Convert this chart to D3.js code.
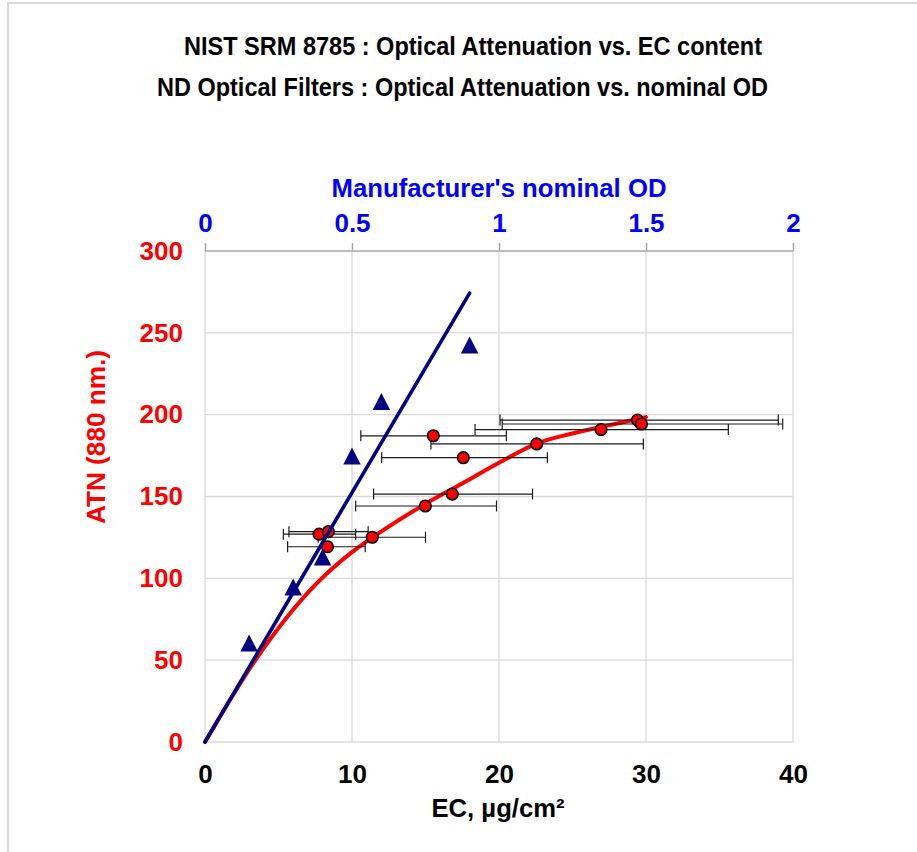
<!DOCTYPE html>
<html>
<head>
<meta charset="utf-8">
<script src="https://cdn.jsdelivr.net/npm/d3@7"></script>
<style>
html,body{margin:0;padding:0;background:#fff;}
svg{display:block;font-family:"Liberation Sans",Arial,sans-serif;font-weight:bold;}
</style>
</head>
<body>
<svg id="chart" width="917" height="852"></svg>
<script>
// ---- data ----
const titleLines = ["NIST SRM 8785 : Optical Attenuation vs. EC content",
                    "ND Optical Filters : Optical Attenuation vs. nominal OD"];
const ecTicks = [0, 10, 20, 30, 40];
const odTicks = [0, 0.5, 1, 1.5, 2];
const atnTicks = [0, 50, 100, 150, 200, 250, 300];

// NIST SRM 8785 samples: EC (µg/cm²), ATN, EC error bar low/high
const srmEC   = [7.76, 8.39, 8.33, 11.38, 14.99, 16.82, 17.57, 15.53, 22.56, 26.94, 29.42, 29.69];
const srmATN  = [127.0, 128.5, 119.3, 125.1, 144.2, 151.5, 173.7, 187.1, 182.1, 190.9, 196.7, 194.3];
const srmLow  = [5.33, 5.71, 5.62, 7.70, 10.25, 11.47, 12.02, 10.60, 15.37, 18.37, 20.07, 20.22];
const srmHigh = [10.25, 11.10, 10.90, 15.00, 19.83, 22.28, 23.29, 20.50, 29.82, 35.60, 39.00, 39.30];

// fitted curve for SRM samples
const fitEC  = [0, 3.5, 7.5, 10, 11.4, 15, 17.5, 20, 22.6, 25, 27, 30];
const fitATN = [0, 51, 96, 116, 125, 145.5, 158, 170.6, 182.5, 188.5, 192.6, 198.5];

// ND filters: nominal OD vs ATN
const ndOD  = [0.15, 0.30, 0.40, 0.50, 0.60, 0.90];
const ndATN = [60.5, 94.7, 113, 174.7, 208, 242.6];
// ND linear fit line
const ndLineOD  = [0, 0.9];
const ndLineATN = [0, 274.3];

// ---- layout ----
const svg = d3.select("#chart");
const L = 205, R = 793, T = 251, B = 742;
const x = d3.scaleLinear().domain([0, 40]).range([L, R]);
const xTop = d3.scaleLinear().domain([0, 2]).range([L, R]);
const y = d3.scaleLinear().domain([0, 300]).range([B, T]);
const FONT = "Liberation Sans, Arial, sans-serif";

// outer frame
svg.append("rect").attr("x", 8).attr("y", 3).attr("width", 940).attr("height", 900)
  .attr("fill", "none").attr("stroke", "#d9d9d9").attr("stroke-width", 2);

// titles
const titlePos = [{cx: 473, base: 55, len: 578}, {cx: 462.5, base: 96, len: 611}];
svg.selectAll("text.title").data(titleLines).enter().append("text")
  .attr("class", "title")
  .attr("x", (d, i) => titlePos[i].cx).attr("y", (d, i) => titlePos[i].base)
  .attr("text-anchor", "middle").attr("font-size", 25).attr("fill", "#000")
  .attr("textLength", (d, i) => titlePos[i].len).attr("lengthAdjust", "spacingAndGlyphs")
  .text(d => d);

// gridlines
const grid = svg.append("g");
grid.selectAll("line.h").data(atnTicks.filter(d => d > 0 && d < 300)).enter().append("line")
  .attr("x1", L).attr("x2", R).attr("y1", d => y(d)).attr("y2", d => y(d))
  .attr("stroke", "#d9d9d9").attr("stroke-width", 1.3);
grid.selectAll("line.v").data(ecTicks).enter().append("line")
  .attr("y1", T).attr("y2", B).attr("x1", d => x(d)).attr("x2", d => x(d))
  .attr("stroke", "#d9d9d9").attr("stroke-width", 1.3);
grid.append("line").attr("x1", L).attr("x2", R).attr("y1", B).attr("y2", B)
  .attr("stroke", "#d9d9d9").attr("stroke-width", 1.5);

// top axis (nominal OD)
const topAxis = d3.axisTop(xTop).tickValues(odTicks).tickSize(8).tickFormat(d3.format("~g")).tickPadding(11);
const gTop = svg.append("g").attr("transform", `translate(0,${T})`).call(topAxis);
gTop.select(".domain").attr("stroke", "#a6a6a6").attr("stroke-width", 1.5).attr("d", `M${L},0H${R}`);
gTop.selectAll(".tick line").attr("stroke", "#a6a6a6").attr("stroke-width", 1.5);
gTop.selectAll(".tick text").attr("fill", "#0000ff").attr("font-size", 26)
  .attr("font-family", FONT).attr("font-weight", "bold");

// bottom axis (EC)
const botAxis = d3.axisBottom(x).tickValues(ecTicks).tickSize(0).tickPadding(22.5);
const gBot = svg.append("g").attr("transform", `translate(0,${B})`).call(botAxis);
gBot.select(".domain").remove();
gBot.selectAll(".tick text").attr("fill", "#000").attr("font-size", 26)
  .attr("font-family", FONT).attr("font-weight", "bold");

// left axis (ATN)
const leftAxis = d3.axisLeft(y).tickValues(atnTicks).tickSize(0).tickPadding(22);
const gLeft = svg.append("g").attr("transform", `translate(${L},0)`).call(leftAxis);
gLeft.select(".domain").remove();
gLeft.selectAll(".tick text").attr("fill", "#ff0000").attr("font-size", 26)
  .attr("font-family", FONT).attr("font-weight", "bold");

// axis titles
svg.append("text").attr("x", 499).attr("y", 197).attr("text-anchor", "middle")
  .attr("font-size", 26).attr("fill", "#0000ff")
  .attr("textLength", 335).attr("lengthAdjust", "spacingAndGlyphs")
  .text("Manufacturer's nominal OD");
svg.append("text").attr("x", 498).attr("y", 817).attr("text-anchor", "middle")
  .attr("font-size", 26).attr("fill", "#000")
  .attr("textLength", 133).attr("lengthAdjust", "spacingAndGlyphs")
  .text("EC, µg/cm²");
svg.append("text").attr("transform", "translate(105,437) rotate(-90)").attr("text-anchor", "middle")
  .attr("font-size", 26).attr("fill", "#ff0000")
  .attr("textLength", 174).attr("lengthAdjust", "spacingAndGlyphs")
  .text("ATN (880 nm.)");

// red fit curve
const fitData = fitEC.map((e, i) => [e, fitATN[i]]);
svg.append("path").datum(fitData)
  .attr("d", d3.line().x(d => x(d[0])).y(d => y(d[1])).curve(d3.curveMonotoneX))
  .attr("fill", "none").attr("stroke", "#ff0000").attr("stroke-width", 4).attr("stroke-linecap", "round");

// error bars
const srm = srmEC.map((e, i) => ({ec: e, atn: srmATN[i], lo: srmLow[i], hi: srmHigh[i]}));
const eb = svg.append("g").attr("stroke", "#1a1a1a").attr("stroke-width", 1.2);
eb.selectAll("line.bar").data(srm).enter().append("line")
  .attr("x1", d => x(d.lo)).attr("x2", d => x(d.hi))
  .attr("y1", d => y(d.atn)).attr("y2", d => y(d.atn));
eb.selectAll("line.capL").data(srm).enter().append("line")
  .attr("x1", d => x(d.lo)).attr("x2", d => x(d.lo))
  .attr("y1", d => y(d.atn) - 5.5).attr("y2", d => y(d.atn) + 5.5);
eb.selectAll("line.capR").data(srm).enter().append("line")
  .attr("x1", d => x(d.hi)).attr("x2", d => x(d.hi))
  .attr("y1", d => y(d.atn) - 5.5).attr("y2", d => y(d.atn) + 5.5);

// red circles
svg.append("g").selectAll("circle").data(srm).enter().append("circle")
  .attr("cx", d => x(d.ec)).attr("cy", d => y(d.atn)).attr("r", 5.8)
  .attr("fill", "#ff0000").attr("stroke", "#000").attr("stroke-width", 1.6);

// blue line
const ndLine = ndLineOD.map((o, i) => [o, ndLineATN[i]]);
svg.append("path").datum(ndLine)
  .attr("d", d3.line().x(d => xTop(d[0])).y(d => y(d[1])))
  .attr("fill", "none").attr("stroke", "#000080").attr("stroke-width", 3.6).attr("stroke-linecap", "round");

// triangles (marker box centred on the point)
const tw = 17.5, th = 17;
svg.append("g").selectAll("path").data(nd = ndOD.map((o, i) => ({od: o, atn: ndATN[i]}))).enter().append("path")
  .attr("d", `M0,${-th / 2}L${tw / 2},${th / 2}L${-tw / 2},${th / 2}Z`)
  .attr("transform", d => `translate(${xTop(d.od)},${y(d.atn)})`)
  .attr("fill", "#000080");
</script>
</body>
</html>
